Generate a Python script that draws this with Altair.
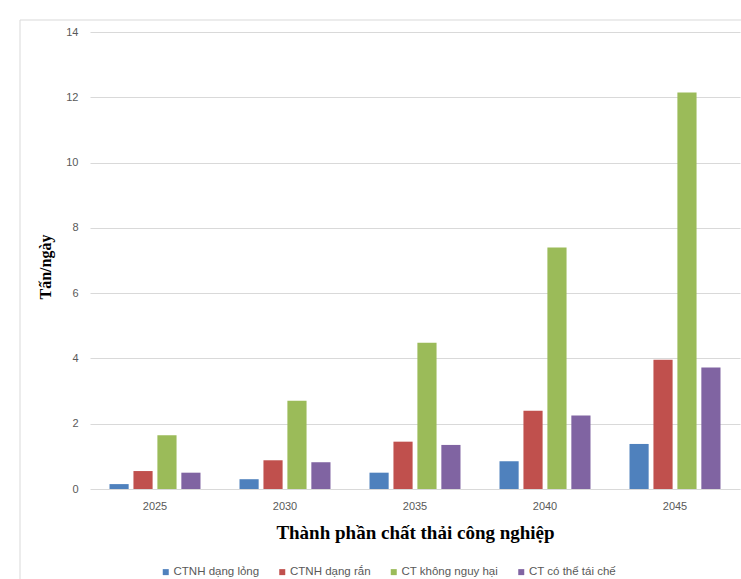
import altair as alt
import pandas as pd

# Industrial waste generation forecast (tonnes/day) by waste type and year
years = ["2025", "2030", "2035", "2040", "2045"]
series = ["CTNH dạng lỏng", "CTNH dạng rắn", "CT không nguy hại", "CT có thể tái chế"]
liquid_hazardous = [0.15, 0.30, 0.50, 0.85, 1.38]
solid_hazardous = [0.55, 0.88, 1.45, 2.40, 3.96]
non_hazardous = [1.65, 2.70, 4.48, 7.40, 12.15]
recyclable = [0.50, 0.82, 1.35, 2.25, 3.72]
colors = ["#4F81BD", "#C0504D", "#9BBB59", "#8064A2"]
y_ticks = [0, 2, 4, 6, 8, 10, 12, 14]

rows = []
for name, values in zip(series, [liquid_hazardous, solid_hazardous, non_hazardous, recyclable]):
    for year, v in zip(years, values):
        rows.append({"Năm": year, "Loại": name, "Giá trị": v})
df = pd.DataFrame(rows)

W, H = 650, 457

bars = alt.Chart(df).mark_bar().encode(
    x=alt.X(
        "Năm:N",
        sort=years,
        scale=alt.Scale(paddingInner=0.3, paddingOuter=0.15),
        axis=alt.Axis(
            title="Thành phần chất thải công nghiệp",
            titleFont="Liberation Serif",
            titleFontSize=19,
            titleFontWeight="bold",
            titleColor="#000000",
            titlePadding=12,
            labelFont="Liberation Sans",
            labelFontSize=11,
            labelColor="#595959",
            labelPadding=11,
            labelAngle=0,
            ticks=False,
            domain=False,
            grid=False,
        ),
    ),
    xOffset=alt.XOffset(
        "Loại:N",
        sort=series,
        scale=alt.Scale(paddingInner=0.2, paddingOuter=0),
    ),
    y=alt.Y(
        "Giá trị:Q",
        scale=alt.Scale(domain=[0, 14], nice=False),
        axis=alt.Axis(
            values=y_ticks,
            title="Tấn/ngày",
            titleFont="Liberation Serif",
            titleFontSize=16,
            titleFontWeight="bold",
            titleColor="#000000",
            titleX=-45,
            titleY=H / 2 + 6,
            titleBaseline="middle",
            labelFont="Liberation Sans",
            labelFontSize=11,
            labelColor="#595959",
            labelPadding=12,
            ticks=False,
            domain=False,
            grid=True,
            gridColor="#d9d9d9",
            gridWidth=1,
        ),
    ),
    color=alt.Color(
        "Loại:N",
        sort=series,
        scale=alt.Scale(domain=series, range=colors),
        legend=alt.Legend(
            title=None,
            orient="none",
            legendX=70,
            legendY=534,
            direction="horizontal",
            symbolType="square",
            symbolSize=36,
            symbolStrokeWidth=0,
            labelFont="Liberation Sans",
            labelFontSize=11.5,
            labelColor="#595959",
            labelOffset=2,
            columnPadding=16.5,
        ),
    ),
)

# Outer chart frame: only its left and top edges fall inside the page
frame_left = alt.Chart(pd.DataFrame({"k": [0]})).mark_rule(
    color="#d9d9d9", strokeWidth=1, clip=False
).encode(x=alt.value(-70), y=alt.value(-12), y2=alt.value(580))

frame_top = alt.Chart(pd.DataFrame({"k": [0]})).mark_rule(
    color="#d9d9d9", strokeWidth=1, clip=False
).encode(x=alt.value(-70), x2=alt.value(680), y=alt.value(-12))

chart = alt.layer(frame_left, frame_top, bars).properties(
    width=W,
    height=H,
    background="#ffffff",
    padding={"left": 90, "top": 32, "right": 1, "bottom": 90},
    autosize=alt.AutoSizeParams(type="none"),
).configure_view(strokeWidth=0)

chart.save("out.html", embed_options={"renderer": "svg", "actions": False})
